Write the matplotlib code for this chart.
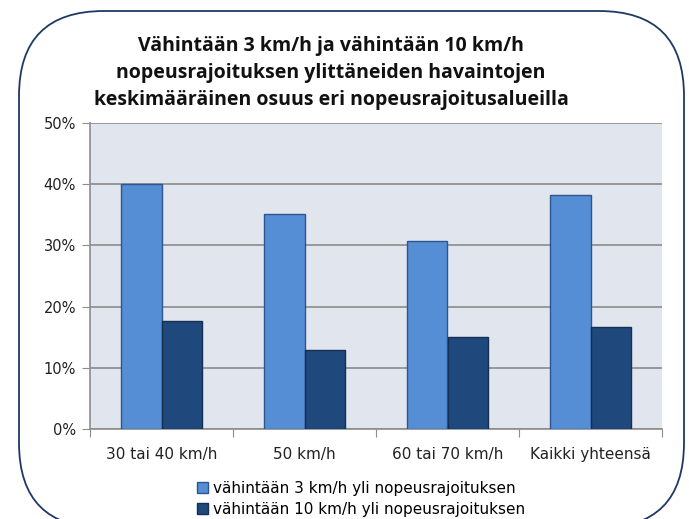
import matplotlib
matplotlib.use("Agg")
import matplotlib.pyplot as plt
import numpy as np
from matplotlib.patches import FancyBboxPatch, Patch
from matplotlib.ticker import FuncFormatter, MultipleLocator

categories = ["30 tai 40 km/h", "50 km/h", "60 tai 70 km/h", "Kaikki yhteensä"]
series_names = ["vähintään 3 km/h yli nopeusrajoituksen",
                "vähintään 10 km/h yli nopeusrajoituksen"]
vals_3 = [40.0, 35.2, 30.8, 38.3]
vals_10 = [17.6, 12.9, 15.0, 16.7]
title = "Vähintään 3 km/h ja vähintään 10 km/h\nnopeusrajoituksen ylittäneiden havaintojen\nkeskimääräinen osuus eri nopeusrajoitusalueilla"

W, H = 689, 519
fig = plt.figure(figsize=(W/100, H/100), dpi=100)
fig.patch.set_facecolor("white")

# rounded border (inches, via dpi_scale_trans)
border = FancyBboxPatch((0.19, (H - 528)/100), 6.65, (528 - 11)/100,
                        transform=fig.dpi_scale_trans,
                        boxstyle="round,pad=0,rounding_size=0.85",
                        facecolor="none", edgecolor="#1F3864", linewidth=1.3)
fig.patches.append(border)

ax = fig.add_axes([90/W, 1-429/H, (662-90)/W, (429-123)/H])
ax.set_facecolor("#E0E5EE")
x = np.arange(len(categories))
bw = 0.28
c1, c2 = "#558ED5", "#1F497D"
ax.bar(x - bw/2, vals_3, bw, color=c1, edgecolor="#2E5590", linewidth=1, zorder=3)
ax.bar(x + bw/2, vals_10, bw, color=c2, edgecolor="#142F52", linewidth=1, zorder=3)
ax.set_xlim(-0.5, len(categories)-0.5)
ax.set_ylim(0, 50)
ax.yaxis.set_major_locator(MultipleLocator(10))
ax.yaxis.set_major_formatter(FuncFormatter(lambda v, p: f"{v:.0f}%"))
ax.grid(axis="y", color="#8C8C8C", linewidth=1.2, zorder=1)
ax.set_xticks(np.arange(-0.5, len(categories), 1.0), minor=False)
ax.set_xticklabels([])
ax.set_xticks(x, minor=True)
ax.set_xticklabels(categories, minor=True)
ax.tick_params(axis="x", which="minor", length=0, pad=13, labelsize=11)
ax.tick_params(axis="x", which="major", length=6, color="#8C8C8C", direction="out")
ax.tick_params(axis="y", length=6, color="#8C8C8C", labelsize=10.5, pad=4)
for s in ["top", "right"]:
    ax.spines[s].set_visible(False)
for s in ["left", "bottom"]:
    ax.spines[s].set_color("#8C8C8C")
    ax.spines[s].set_linewidth(1.2)
for lab in ax.get_xticklabels(minor=True) + ax.get_yticklabels():
    lab.set_fontfamily("DejaVu Sans")
    lab.set_color("#222222")

fig.text(331/W, 1-73/H, title, ha="center", va="center", fontsize=14, fontweight="bold",
         family="Open Sans", linespacing=1.48, color="#111111")

handles = [Patch(facecolor=c1, edgecolor="#2E5590"), Patch(facecolor=c2, edgecolor="#142F52")]
fig.legend(handles, series_names, loc="upper left", bbox_to_anchor=(197/W, 1-481/H),
           frameon=False, handlelength=0.75, handleheight=0.75,
           handletextpad=0.3, labelspacing=0.4, borderpad=0, borderaxespad=0,
           prop={"family": "DejaVu Sans", "size": 11})

fig.savefig("out.png", dpi=100)
